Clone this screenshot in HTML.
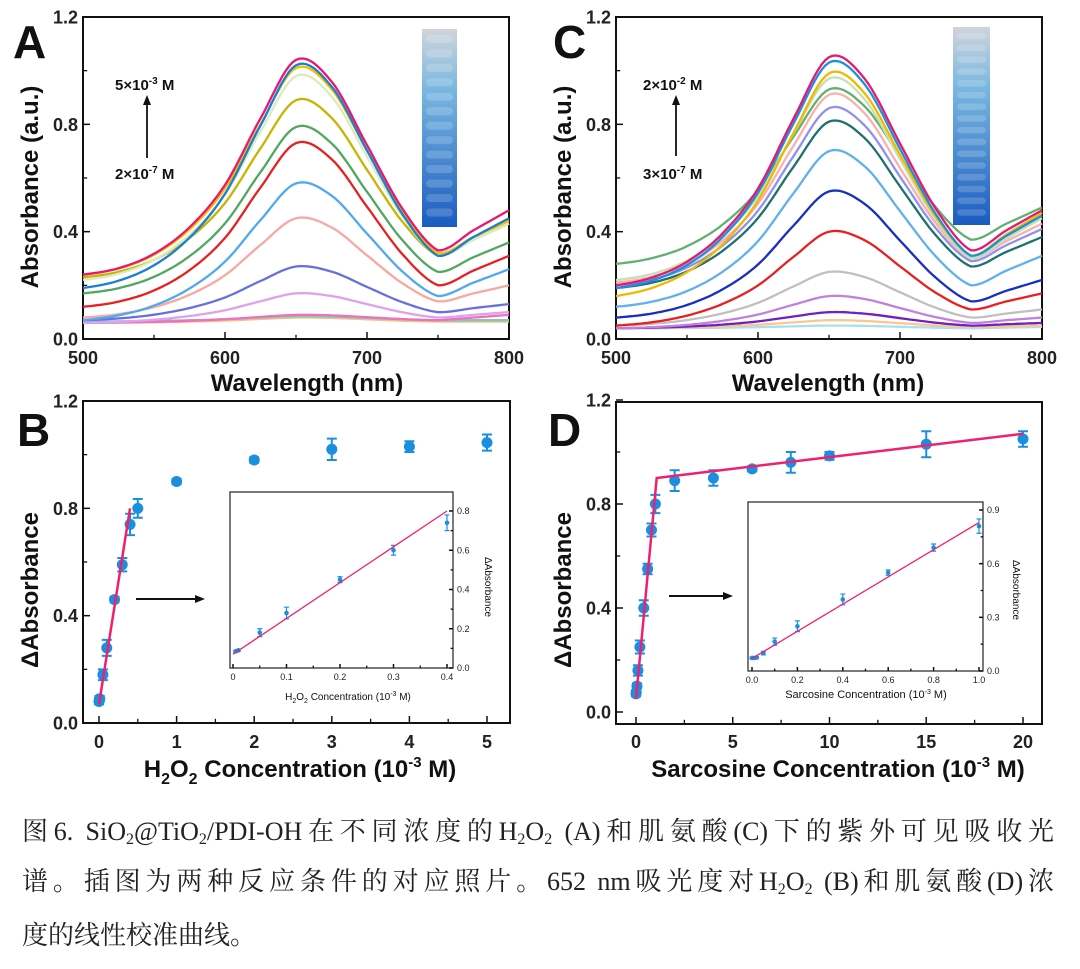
<!DOCTYPE html>
<html><head><meta charset="utf-8"><style>
body{margin:0;background:#fff;width:1080px;height:969px;overflow:hidden;position:relative;font-family:"Liberation Sans",sans-serif}
.cap{position:absolute;left:22px;width:1032px;font-family:"Liberation Serif","Noto Serif CJK SC",serif;font-size:26px;color:#222;white-space:nowrap}
.j{text-align:justify;text-align-last:justify}
sub{font-size:16px;vertical-align:-4px;line-height:0}
</style></head><body>
<svg id="fig" width="1080" height="800" style="position:absolute;left:0;top:0" font-family="Liberation Sans, sans-serif"></svg>
<div class="cap j" style="top:811px">图6. SiO<sub>2</sub>@TiO<sub>2</sub>/PDI-OH在不同浓度的H<sub>2</sub>O<sub>2</sub> (A)和肌氨酸(C)下的紫外可见吸收光</div>
<div class="cap j" style="top:861px">谱。插图为两种反应条件的对应照片。652 nm吸光度对H<sub>2</sub>O<sub>2</sub> (B)和肌氨酸(D)浓</div>
<div class="cap" style="top:915px">度的线性校准曲线。</div>
<script>
// ---- data ----
const shapeWl=[500,525,550,575,600,625,650,675,700,725,750,775,800];
const shapeVal=[0,0.02,0.08,0.2,0.4,0.72,1.0,0.88,0.55,0.22,0,0,0];
const peakA=[0.08,0.085,0.09,0.17,0.27,0.45,0.58,0.73,0.79,0.89,0.98,1.01,1.02,1.04];
const startA=[0.06,0.065,0.06,0.06,0.07,0.08,0.07,0.12,0.17,0.23,0.22,0.24,0.19,0.24];
const valleyA=[0.065,0.07,0.07,0.08,0.10,0.14,0.16,0.20,0.25,0.31,0.31,0.32,0.31,0.33];
const endA=[0.065,0.07,0.09,0.10,0.13,0.20,0.26,0.31,0.36,0.43,0.43,0.44,0.45,0.48];
const colA=["#f8c080","#7ec8c0","#f070c0","#e0a0f0","#6870e0","#f8a8a0","#50a8f0","#e82020","#50a860","#c8b400","#d8ecc0","#f0c000","#1a7fd4","#e8186e"];
const peakC=[0.05,0.07,0.10,0.16,0.25,0.40,0.55,0.70,0.81,0.86,0.91,0.93,0.97,0.99,1.03,1.05];
const startC=[0.04,0.04,0.04,0.04,0.05,0.05,0.08,0.12,0.19,0.20,0.21,0.28,0.22,0.16,0.19,0.20];
const valleyC=[0.04,0.045,0.05,0.06,0.08,0.11,0.14,0.20,0.27,0.29,0.30,0.37,0.30,0.31,0.31,0.33];
const endC=[0.045,0.05,0.06,0.08,0.11,0.17,0.22,0.31,0.38,0.41,0.43,0.49,0.45,0.47,0.46,0.48];
const colC=["#a8e0f0","#f8c890","#7020c0","#c080e0","#c0c0c0","#e82020","#1830c0","#60b0f0","#207070","#9090f0","#f8b0b0","#60b070","#c8e0b0","#f0b800","#1a90e0","#e8186e"];
const bX=[0,0.005,0.01,0.05,0.1,0.2,0.3,0.4,0.5,1,2,3,4,5];
const bY=[0.08,0.09,0.09,0.18,0.28,0.46,0.59,0.74,0.80,0.90,0.98,1.02,1.03,1.045];
const bErr=[0.01,0.01,0.01,0.02,0.03,0.01,0.025,0.04,0.035,0.01,0.01,0.04,0.02,0.03];
const bFitX=[0,0.4], bFitY=[0.07,0.80];
const biX=[0.005,0.01,0.05,0.1,0.2,0.3,0.4];
const biY=[0.085,0.09,0.18,0.28,0.45,0.60,0.74];
const biErr=[0.005,0.005,0.02,0.03,0.015,0.025,0.04];
const dX=[0,0.01,0.05,0.1,0.2,0.4,0.6,0.8,1,2,4,6,8,10,15,20];
const dY=[0.07,0.075,0.10,0.16,0.25,0.40,0.55,0.70,0.80,0.89,0.90,0.935,0.96,0.985,1.03,1.05];
const dErr=[0.01,0.01,0.01,0.02,0.025,0.03,0.02,0.025,0.035,0.04,0.03,0.01,0.04,0.015,0.05,0.03];
const dFitX=[0,1.07,20], dFitY=[0.05,0.90,1.07];
const diX=[0,0.01,0.02,0.05,0.1,0.2,0.4,0.6,0.8,1.0];
const diY=[0.073,0.073,0.075,0.10,0.164,0.25,0.40,0.55,0.69,0.81];
const diErr=[0.005,0.005,0.005,0.01,0.02,0.03,0.03,0.015,0.02,0.04];
const diFitX=[0,1], diFitY=[0.07,0.83];
// ---- helpers ----
const NS="http://www.w3.org/2000/svg";const svg=document.getElementById('fig');
function mk(t,a,p){const e=document.createElementNS(NS,t);for(const k in a)e.setAttribute(k,a[k]);(p||svg).appendChild(e);return e;}
function lin(d0,d1,r0,r1){return v=>r0+(v-d0)*(r1-r0)/(d1-d0);}
function txt(s,x,y,o,p){const e=mk('text',Object.assign({x:x,y:y},o||{}),p);e.textContent=s;return e;}
function shape(l){for(let i=0;i<shapeWl.length-1;i++){if(l<=shapeWl[i+1]){const t=(l-shapeWl[i])/25;const p0=shapeVal[Math.max(i-1,0)],p1=shapeVal[i],p2=shapeVal[i+1],p3=shapeVal[Math.min(i+2,shapeVal.length-1)];return 0.5*((2*p1)+(-p0+p2)*t+(2*p0-5*p1+4*p2-p3)*t*t+(-p0+3*p1-3*p2+p3)*t*t*t);}}return 0;}
function frame(g,x0,y0,x1,y1,w){mk('rect',{x:x0,y:y0,width:x1-x0,height:y1-y0,fill:'none',stroke:'#111','stroke-width':w},g);}
function spectra(name,X,Y,peaks,starts,valleys,ends,cols){
  const g=mk('g',{});
  for(let c=0;c<peaks.length;c++){
    const base=l=>l<=750?starts[c]+(valleys[c]-starts[c])*(l-500)/250:valleys[c]+(ends[c]-valleys[c])*(l-750)/50;
    const amp=peaks[c]-base(650);let d='';
    for(let l=500;l<=800;l+=2.5){const v=base(l)+amp*shape(l);d+=(l===500?'M':'L')+X(l).toFixed(1)+','+Y(v).toFixed(1);}
    const p=mk('path',{d:d,fill:'none',stroke:cols[c],'stroke-width':2.3},g);
    
  }
}
function xticks(g,X,y,vals,minor,fs,len,labY,bold){
  vals.forEach(v=>{mk('line',{x1:X(v),x2:X(v),y1:y,y2:y-len,stroke:'#111','stroke-width':1.5},g);const t=txt(String(v),X(v),labY,{'font-size':fs,'font-weight':bold?'bold':'normal','text-anchor':'middle',fill:'#222'},g);});
  minor.forEach(v=>mk('line',{x1:X(v),x2:X(v),y1:y,y2:y-len*0.6,stroke:'#111','stroke-width':1.3},g));
}
function yticks(g,Y,x,vals,labels,minor,fs,len,labX,anchor,bold,dir){
  vals.forEach((v,i)=>{mk('line',{x1:x,x2:x+dir*len,y1:Y(v),y2:Y(v),stroke:'#111','stroke-width':1.5},g);const t=txt(labels[i],labX,Y(v)+fs*0.36,{'font-size':fs,'font-weight':bold?'bold':'normal','text-anchor':anchor,fill:'#222'},g);});
  minor.forEach(v=>mk('line',{x1:x,x2:x+dir*len*0.6,y1:Y(v),y2:Y(v),stroke:'#111','stroke-width':1.3},g));
}
function points(name,X,Y,xs,ys,es,r,cw,sw){
  const g=mk('g',{});
  xs.forEach((x,i)=>{const px=X(x),t=Y(ys[i]+es[i]),b=Y(ys[i]-es[i]);
    mk('path',{d:`M${px},${t}V${b}M${px-cw},${t}H${px+cw}M${px-cw},${b}H${px+cw}`,stroke:'#1a8fe0','stroke-width':sw,fill:'none'},g);
    const c=mk('circle',{cx:px,cy:Y(ys[i]),r:r,fill:'#1a8fe0'},g);});
}
function fit(name,X,Y,xs,ys,w){let d='';xs.forEach((x,i)=>d+=(i?'L':'M')+X(x)+','+Y(ys[i]));const p=mk('path',{d:d,stroke:'#f0206e','stroke-width':w,fill:'none'});}
function arrowH(x0,x1,y){mk('line',{x1:x0,x2:x1-8,y1:y,y2:y,stroke:'#111','stroke-width':2});mk('path',{d:`M${x1},${y}L${x1-10},${y-4}L${x1-10},${y+4}Z`,fill:'#111'});}
function arrowV(x,y0,y1){mk('line',{x1:x,x2:x,y1:y0,y2:y1+8,stroke:'#111','stroke-width':1.8});mk('path',{d:`M${x},${y1}L${x-4},${y1+10}L${x+4},${y1+10}Z`,fill:'#111'});}
function photo(name,x,y,w,h,rows){
  const g=mk('g',{});
  const gid=name+'-grad';const df=mk('defs',{},g);const lg=mk('linearGradient',{id:gid,x1:0,y1:0,x2:0,y2:1},df);
  mk('stop',{offset:'0','stop-color':'#d0d4dc'},lg);mk('stop',{offset:'0.3','stop-color':'#7ab8e0'},lg);mk('stop',{offset:'1','stop-color':'#1a5cc0'},lg);
  mk('rect',{x:x,y:y,width:w,height:h,fill:'url(#'+gid+')'},g);
  for(let i=0;i<rows;i++){const yy=y+6+i*(h-10)/rows;mk('rect',{x:x+4,y:yy,width:w-8,height:(h-10)/rows*0.55,rx:4,fill:'#fff',opacity:0.18},g);}
}
function label(s,x,y,fs,name,extra){const t=txt(s,x,y,Object.assign({'font-size':fs,'font-weight':'bold',fill:'#111'},extra||{}));return t;}
// ---- Panel A ----
(function(){const X=lin(500,800,83,509),Y=lin(0,1.2,339,17);const g=mk('g',{});
 spectra('panel-a-spectra',X,Y,peakA,startA,valleyA,endA,colA);photo('panel-a-photo',422,29,35,198,13);
 frame(g,83,17,509,339,2);xticks(g,X,339,[500,600,700,800],[550,650,750],18,7,364,true);
 yticks(g,Y,83,[0,0.4,0.8,1.2],['0.0','0.4','0.8','1.2'],[0.2,0.6,1.0],18,7,78,'end',true,1);
 label('A',13,58,46,'panel-a-letter');
 label('Absorbance (a.u.)',0,0,24,'y-axis-title-a',{'text-anchor':'middle',transform:'translate(38,187) rotate(-90)'});
 label('Wavelength (nm)',307,391,24,'x-axis-title-a',{'text-anchor':'middle'});
 const a=label('',115,90,15,'legend-high-a');a.innerHTML='5×10<tspan font-size="10" dy="-6">-3</tspan><tspan dy="6"> M</tspan>';
 const b=label('',115,179,15,'legend-low-a');b.innerHTML='2×10<tspan font-size="10" dy="-6">-7</tspan><tspan dy="6"> M</tspan>';
 arrowV(147,158,95);
})();
// ---- Panel C ----
(function(){const X=lin(500,800,616,1042),Y=lin(0,1.2,339,17);const g=mk('g',{});
 spectra('panel-c-spectra',X,Y,peakC,startC,valleyC,endC,colC);photo('panel-c-photo',953,27,37,198,16);
 frame(g,616,17,1042,339,2);xticks(g,X,339,[500,600,700,800],[550,650,750],18,7,364,true);
 yticks(g,Y,616,[0,0.4,0.8,1.2],['0.0','0.4','0.8','1.2'],[0.2,0.6,1.0],18,7,611,'end',true,1);
 label('C',553,58,46,'panel-c-letter');
 label('Absorbance (a.u.)',0,0,24,'y-axis-title-c',{'text-anchor':'middle',transform:'translate(571,187) rotate(-90)'});
 label('Wavelength (nm)',828,391,24,'x-axis-title-c',{'text-anchor':'middle'});
 const a=label('',643,90,15,'legend-high-c');a.innerHTML='2×10<tspan font-size="10" dy="-6">-2</tspan><tspan dy="6"> M</tspan>';
 const b=label('',643,179,15,'legend-low-c');b.innerHTML='3×10<tspan font-size="10" dy="-6">-7</tspan><tspan dy="6"> M</tspan>';
 arrowV(676,156,95);
})();
// ---- Panel B ----
(function(){const X=lin(0,5,99,487),Y=lin(0,1.2,723,401);const g=mk('g',{});
 frame(g,83,401,510,723,2);xticks(g,X,723,[0,1,2,3,4,5],[0.5,1.5,2.5,3.5,4.5],18,7,748,true);
 yticks(g,Y,83,[0,0.4,0.8,1.2],['0.0','0.4','0.8','1.2'],[0.2,0.6,1.0],18,7,78,'end',true,1);
 points('panel-b-points',X,Y,bX,bY,bErr,5.5,5,2);fit('panel-b-fit',X,Y,bFitX,bFitY,2.5);
 label('B',17,446,46,'panel-b-letter');
 label('ΔAbsorbance',0,0,24,'y-axis-title-b',{'text-anchor':'middle',transform:'translate(38,590) rotate(-90)'});
 const xl=label('',300,777,24,'x-axis-title-b',{'text-anchor':'middle'});xl.innerHTML='H<tspan font-size="16" dy="7">2</tspan><tspan dy="-7">O</tspan><tspan font-size="16" dy="7">2</tspan><tspan dy="-7"> Concentration (10</tspan><tspan font-size="15" dy="-10">-3</tspan><tspan dy="10"> M)</tspan>';
 arrowH(136,205,599);
 const iX=lin(0,0.4,233,447),iY=lin(0,0.8,668,511);const ig=mk('g',{});
 mk('rect',{x:230,y:492,width:223,height:176,fill:'#fff',stroke:'#333','stroke-width':1.3},ig);
 xticks(ig,iX,668,[0,0.1,0.2,0.3,0.4],[0.05,0.15,0.25,0.35],9,4,680,false);
 yticks(ig,iY,453,[0,0.2,0.4,0.6,0.8],['0.0','0.2','0.4','0.6','0.8'],[0.1,0.3,0.5,0.7],9,4,457,'start',false,-1);
 points('panel-b-inset-points',iX,iY,biX,biY,biErr,2.3,2.5,1.2);fit('panel-b-inset-fit',iX,iY,bFitX,bFitY,1.3);
 const il=label('',348,700,10,'inset-b-x-title',{'text-anchor':'middle','font-weight':'normal'});il.innerHTML='H<tspan font-size="7" dy="3">2</tspan><tspan dy="-3">O</tspan><tspan font-size="7" dy="3">2</tspan><tspan dy="-3"> Concentration (10</tspan><tspan font-size="7" dy="-4">-3</tspan><tspan dy="4"> M)</tspan>';
 label('ΔAbsorbance',0,0,10,'inset-b-y-title',{'text-anchor':'middle','font-weight':'normal',transform:'translate(485,587) rotate(90)'});
})();
// ---- Panel D ----
(function(){const X=lin(0,20,636,1023),Y=lin(0,1.2,712,400);const g=mk('g',{});
 frame(g,616,402,1042,724,2);xticks(g,X,724,[0,5,10,15,20],[2.5,7.5,12.5,17.5],18,7,748,true);
 yticks(g,Y,616,[0,0.4,0.8,1.2],['0.0','0.4','0.8','1.2'],[0.2,0.6,1.0],18,7,611,'end',true,1);
 points('panel-d-points',X,Y,dX,dY,dErr,5.5,5,2);fit('panel-d-fit',X,Y,dFitX,dFitY,2.5);
 label('D',548,446,46,'panel-d-letter');
 label('ΔAbsorbance',0,0,24,'y-axis-title-d',{'text-anchor':'middle',transform:'translate(571,590) rotate(-90)'});
 const xl=label('',838,777,24,'x-axis-title-d',{'text-anchor':'middle'});xl.innerHTML='Sarcosine Concentration (10<tspan font-size="15" dy="-10">-3</tspan><tspan dy="10"> M)</tspan>';
 arrowH(669,733,596);
 const iX=lin(0,1,752,979),iY=lin(0,0.9,671,510);const ig=mk('g',{});
 mk('rect',{x:748,y:502,width:235,height:169,fill:'#fff',stroke:'#333','stroke-width':1.3},ig);
 xticks(ig,iX,671,[0,0.2,0.4,0.6,0.8,1.0],[0.1,0.3,0.5,0.7,0.9],9,4,683,false);
 ig.querySelectorAll('text').forEach((t,i)=>{const v=[0,0.2,0.4,0.6,0.8,1.0][i];if(v!==undefined)t.textContent=v.toFixed(1);});
 yticks(ig,iY,983,[0,0.3,0.6,0.9],['0.0','0.3','0.6','0.9'],[0.15,0.45,0.75],9,4,987,'start',false,-1);
 points('panel-d-inset-points',iX,iY,diX,diY,diErr,2.3,2.5,1.2);fit('panel-d-inset-fit',iX,iY,diFitX,diFitY,1.3);
 const il=label('',866,698,11,'inset-d-x-title',{'text-anchor':'middle','font-weight':'normal'});il.innerHTML='Sarcosine Concentration (10<tspan font-size="7" dy="-4">-3</tspan><tspan dy="4"> M)</tspan>';
 label('ΔAbsorbance',0,0,10,'inset-d-y-title',{'text-anchor':'middle','font-weight':'normal',transform:'translate(1013,590) rotate(90)'});
})();
</script>
</body></html>
